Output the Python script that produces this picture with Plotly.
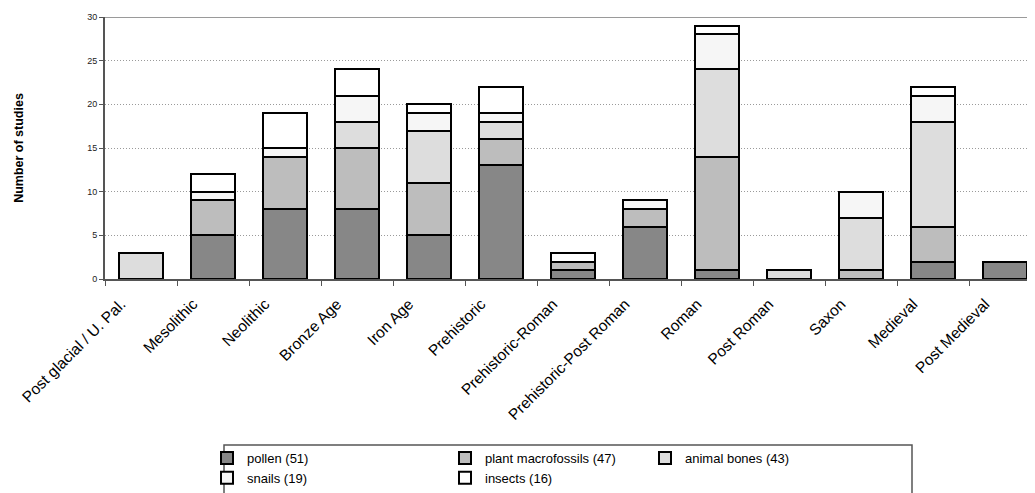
import plotly.graph_objects as go

categories = ["Post glacial / U. Pal.", "Mesolithic", "Neolithic", "Bronze Age", "Iron Age",
              "Prehistoric", "Prehistoric-Roman", "Prehistoric-Post Roman", "Roman",
              "Post Roman", "Saxon", "Medieval", "Post Medieval"]
pollen = [0, 5, 8, 8, 5, 13, 1, 6, 1, 0, 0, 2, 2]
plant_macrofossils = [0, 4, 6, 7, 6, 3, 1, 2, 13, 0, 1, 4, 0]
animal_bones = [3, 0, 0, 3, 6, 2, 0, 0, 10, 1, 6, 12, 0]
snails = [0, 1, 1, 3, 2, 1, 0, 1, 4, 0, 3, 3, 0]
insects = [0, 2, 4, 3, 1, 3, 1, 0, 1, 0, 0, 1, 0]

series_names = ["pollen (51)", "plant macrofossils (47)", "animal bones (43)", "snails (19)", "insects (16)"]
series_values = [pollen, plant_macrofossils, animal_bones, snails, insects]
series_colors = ["#878787", "#bdbdbd", "#dddddd", "#f6f6f6", "#ffffff"]
series_legend = ["legend", "legend2", "legend3", "legend", "legend2"]

# page is offset by the 8px body margin; figure coordinates below are page - 8
W, H = 1027, 485
ML, MR, MT, MB = 97, 0, 9, 214
PW, PH = W - ML - MR, H - MT - MB
CAT_PX = 72.0  # pixels per category in the reference
x_hi = -0.5 + PW / CAT_PX

def px_x(px):
    return (px - ML) / PW

def px_y(py):
    return (H - MB - py) / PH

FONT = "Liberation Sans, Arial, sans-serif"

fig = go.Figure()
for name, vals, col, lg in zip(series_names, series_values, series_colors, series_legend):
    fig.add_trace(go.Bar(
        x=categories, y=vals, name=name, legend=lg,
        marker=dict(color=col, line=dict(color="#000000", width=2)),
        width=0.6,
    ))

legend_common = dict(orientation="v", bgcolor="rgba(0,0,0,0)", borderwidth=0,
                     font=dict(family=FONT, size=13, color="#000000"),
                     xanchor="left", yanchor="top", traceorder="normal",
                     tracegroupgap=0)
ly = px_y(435)
fig.update_layout(
    width=W, height=H,
    margin=dict(l=ML, r=MR, t=MT, b=MB, autoexpand=False),
    paper_bgcolor="#ffffff", plot_bgcolor="#ffffff",
    barmode="stack",
    font=dict(family=FONT, color="#000000"),
    showlegend=True,
    legend=dict(x=px_x(199), y=ly, **legend_common),
    legend2=dict(x=px_x(437), y=ly, **legend_common),
    legend3=dict(x=px_x(637), y=ly, **legend_common),
    xaxis=dict(
        type="category", tickson="boundaries", ticks="outside", ticklen=5,
        tickcolor="#555555", tickwidth=1,
        range=[-0.5, x_hi],
        showline=True, linecolor="#555555", linewidth=2,
        tickangle=-45, showgrid=False,
        ticklabelstandoff=8, ticklabelshift=-20,
        tickfont=dict(family=FONT, size=15.5, color="#000000"),
        automargin=False,
    ),
    yaxis=dict(
        range=[0, 30], tickvals=[0, 5, 10, 15, 20, 25, 30],
        ticks="outside", ticklen=4, tickcolor="#555555",
        showline=True, linecolor="#555555", linewidth=2,
        showgrid=True, gridcolor="#9a9a9a", griddash="1px,2px", gridwidth=1,
        zeroline=False,
        tickfont=dict(family=FONT, size=9, color="#222222"),
        title=dict(text="<b>Number of studies</b>", standoff=61,
                   font=dict(family=FONT, size=12.5, color="#000000")),
        automargin=False,
    ),
    shapes=[
        dict(type="line", xref="paper", yref="y", x0=0, x1=1, y0=30, y1=30,
             line=dict(color="#9a9a9a", width=2), layer="above"),
        dict(type="rect", xref="paper", yref="paper",
             x0=px_x(216), x1=px_x(904), y0=px_y(437), y1=px_y(486),
             line=dict(color="#555555", width=1.5), fillcolor="rgba(0,0,0,0)"),
    ],
)

fig.write_html("out.html")
